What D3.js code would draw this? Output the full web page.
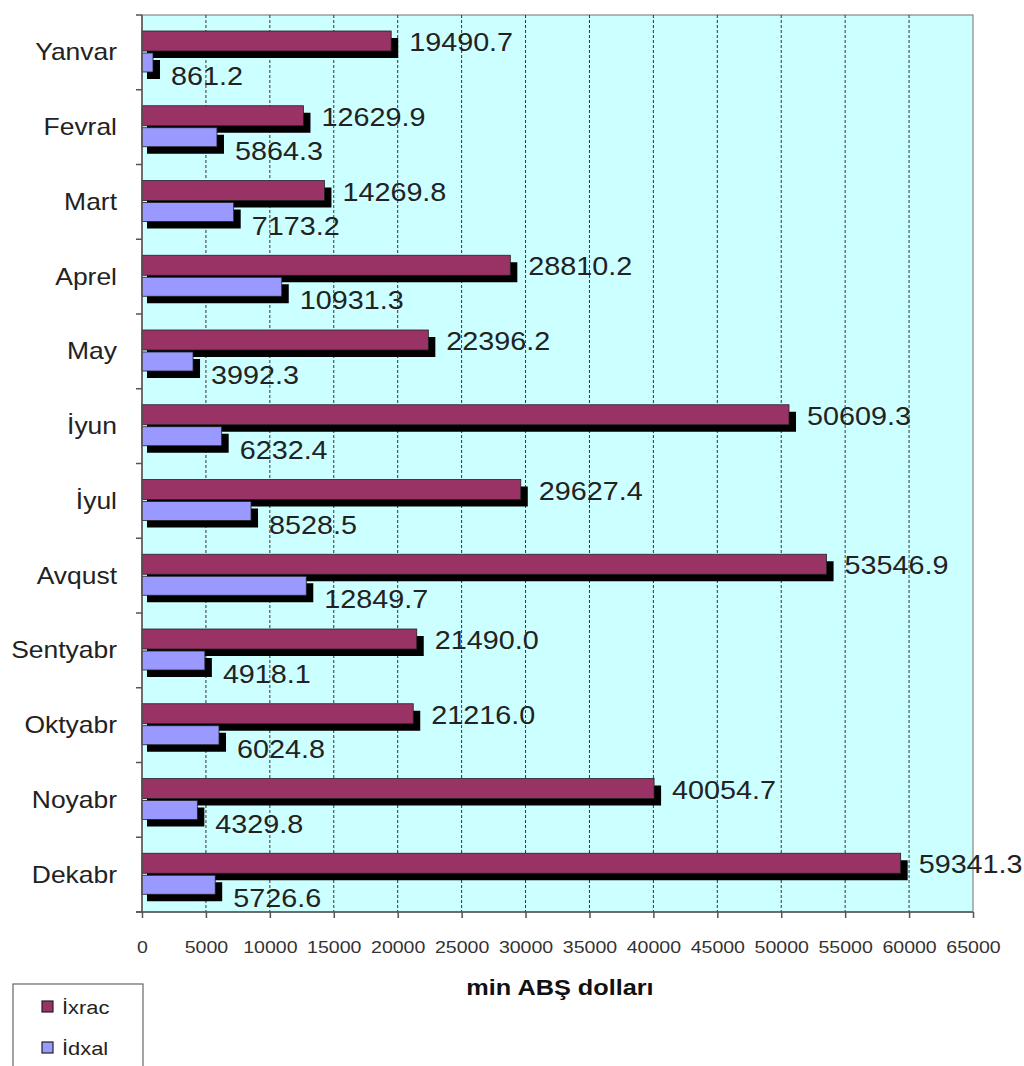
<!DOCTYPE html>
<html>
<head>
<meta charset="utf-8">
<script src="https://cdn.jsdelivr.net/npm/d3@7"></script>
<style>
  body { margin: 0; background: #fff; }
  text { font-family: "Liberation Sans", Arial, sans-serif; }
</style>
</head>
<body>
<div id="main"></div>
<script>
var months = ['Yanvar', 'Fevral', 'Mart', 'Aprel', 'May', 'İyun', 'İyul', 'Avqust', 'Sentyabr', 'Oktyabr', 'Noyabr', 'Dekabr'];
var ixrac = [19490.7, 12629.9, 14269.8, 28810.2, 22396.2, 50609.3, 29627.4, 53546.9, 21490.0, 21216.0, 40054.7, 59341.3];
var idxal = [861.2, 5864.3, 7173.2, 10931.3, 3992.3, 6232.4, 8528.5, 12849.7, 4918.1, 6024.8, 4329.8, 5726.6];
var xTicks = [0, 5000, 10000, 15000, 20000, 25000, 30000, 35000, 40000, 45000, 50000, 55000, 60000, 65000];
var seriesNames = ['İxrac', 'İdxal'];
var colors = ['#993366', '#9999ff'];

var pl = 142, pr = 973, pt = 15, pb = 912, sx = 1.15;

var svg = d3.select('#main').append('svg')
    .attr('width', 1024).attr('height', 1066);

var x = d3.scaleLinear().domain([0, 65000]).range([pl, pr]);
var y = d3.scaleBand().domain(months).range([pt, pb]).padding(0);
var bw = y.bandwidth();

// plot background
svg.append('rect')
    .attr('x', pl).attr('y', pt).attr('width', pr - pl).attr('height', pb - pt)
    .attr('fill', '#ccffff').attr('stroke', '#888').attr('stroke-width', 1.2);

// dashed gridlines
svg.selectAll('.grid').data(xTicks.slice(1, -1)).enter().append('line')
    .attr('x1', d => x(d)).attr('x2', d => x(d))
    .attr('y1', pt).attr('y2', pb)
    .attr('stroke', '#333').attr('stroke-width', 1).attr('stroke-dasharray', '3,2');

// bars with shadows
var g = svg.selectAll('.cat').data(months).enter().append('g')
    .attr('transform', d => 'translate(0,' + y(d) + ')');

function drawBar(vals, off, h, color) {
  g.append('rect')
      .attr('x', pl + 5).attr('y', off + 7)
      .attr('width', (d, i) => x(vals[i]) - pl + 2).attr('height', h)
      .attr('fill', '#000');
  g.append('rect')
      .attr('x', pl).attr('y', off)
      .attr('width', (d, i) => x(vals[i]) - pl).attr('height', h)
      .attr('fill', color).attr('stroke', '#222').attr('stroke-width', 0.8);
}
drawBar(ixrac, 16, 20, colors[0]);
drawBar(idxal, 38, 19, colors[1]);

function drawLabels(vals, base) {
  g.append('text')
      .attr('transform', (d, i) => 'translate(' + (x(vals[i]) + 18) + ',' + base + ') scale(' + sx + ',1)')
      .attr('font-size', 25).attr('fill', '#222')
      .text((d, i) => vals[i].toFixed(1));
}
drawLabels(ixrac, 36);
drawLabels(idxal, 70);

// category axis
svg.append('line').attr('x1', pl).attr('x2', pl).attr('y1', pt).attr('y2', pb)
    .attr('stroke', '#555').attr('stroke-width', 1.5);
svg.selectAll('.ytick').data(months.concat(['end'])).enter().append('line')
    .attr('x1', pl - 6).attr('x2', pl)
    .attr('y1', (d, i) => pt + i * bw).attr('y2', (d, i) => pt + i * bw)
    .attr('stroke', '#555').attr('stroke-width', 1.5);
svg.selectAll('.ylab').data(months).enter().append('text')
    .attr('transform', d => 'translate(117,' + (y(d) + bw / 2 + 8) + ') scale(' + sx + ',1)')
    .attr('text-anchor', 'end').attr('font-size', 23).attr('fill', '#222')
    .text(d => d);

// value axis
var xa = svg.append('g').attr('transform', 'translate(0,' + pb + ')')
    .call(d3.axisBottom(x).tickValues(xTicks).tickFormat(d3.format('d')).tickSize(6).tickSizeOuter(0));
xa.select('.domain').attr('stroke', '#555').attr('stroke-width', 1.5).attr('d', 'M' + (pl - 6) + ',0H' + pr);
xa.selectAll('line').attr('stroke', '#555').attr('stroke-width', 1.5);
xa.selectAll('text')
    .attr('y', 0).attr('dy', 0)
    .attr('transform', 'translate(0,41) scale(' + sx + ',1)')
    .attr('font-size', 17).attr('fill', '#333')
    .style('font-family', '"Liberation Sans", Arial, sans-serif');

svg.append('text')
    .attr('transform', 'translate(560,995) scale(' + sx + ',1)')
    .attr('text-anchor', 'middle').attr('font-size', 22).attr('font-weight', 'bold').attr('fill', '#111')
    .text('min ABŞ dolları');

// legend
svg.append('rect').attr('x', 13).attr('y', 984).attr('width', 130).attr('height', 100)
    .attr('fill', '#fff').attr('stroke', '#666').attr('stroke-width', 1.2);
var lg = svg.selectAll('.leg').data(seriesNames).enter().append('g')
    .attr('transform', (d, i) => 'translate(0,' + (1007 + i * 41) + ')');
lg.append('rect').attr('x', 42).attr('y', -6).attr('width', 11).attr('height', 11)
    .attr('fill', (d, i) => colors[i]).attr('stroke', '#222').attr('stroke-width', 1.2);
lg.append('text')
    .attr('transform', 'translate(62,7) scale(' + sx + ',1)')
    .attr('font-size', 19).attr('fill', '#222')
    .text(d => d);
</script>
</body>
</html>
